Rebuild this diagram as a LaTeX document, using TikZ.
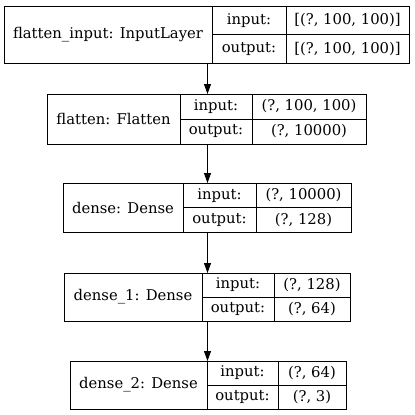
\documentclass[tikz,border=0pt]{standalone}
\usepackage{fontspec}
\setmainfont{DejaVu Serif}
\usetikzlibrary{arrows.meta}
\begin{document}
\begin{tikzpicture}[x=1pt,y=-1pt,
  cellbox/.style={draw, line width=0.9pt, inner sep=0pt, anchor=north west},
  txt/.style={font=\fontsize{14.8}{16}\selectfont, inner sep=0pt},
  conn/.style={line width=0.9pt, -{Triangle[length=10pt,width=7pt]}}]
\useasboundingbox (0,0) rectangle (415,415);
% layerbox{name}{left}{right}{top}{bottom}{d1}{d2}{label}
\newcommand{\layerbox}[8]{%
  \node[cellbox, minimum width={#3-#2}, minimum height={#5-#4}] (#1) at (#2,#4) {};
  \draw[line width=0.9pt] (#6,#4) -- (#6,#5) (#7,#4) -- (#7,#5) (#6,{(#4+#5)/2}) -- (#3,{(#4+#5)/2});
  \node[txt] (#1l) at ({(#2+#6)/2},{(#4+#5)/2}) {#8};
  \node[txt] (#1i) at ({(#6+#7)/2},{(3*#4+#5)/4}) {input:};
  \node[txt] (#1o) at ({(#6+#7)/2},{(#4+3*#5)/4}) {output:};
}
\layerbox{b1}{4}{409}{6}{63}{212}{286}{flatten\_input: InputLayer}
\node[txt] (b1iv) at (347.5,20.25) {[(?, 100, 100)]};
\node[txt] (b1ov) at (347.5,48.75) {[(?, 100, 100)]};
\layerbox{b2}{47}{366}{94}{144}{180}{252}{flatten: Flatten}
\node[txt] (b2iv) at (309,106.5) {(?, 100, 100)};
\node[txt] (b2ov) at (309,131.5) {(?, 10000)};
\layerbox{b3}{63}{351}{183}{232}{183}{256}{dense: Dense}
\node[txt] (b3iv) at (303.5,195.25) {(?, 10000)};
\node[txt] (b3ov) at (303.5,219.75) {(?, 128)};
\layerbox{b4}{64}{350}{273}{321}{202}{274}{dense\_1: Dense}
\node[txt] (b4iv) at (312,285) {(?, 128)};
\node[txt] (b4ov) at (312,309) {(?, 64)};
\layerbox{b5}{70}{346}{361}{409}{207}{278}{dense\_2: Dense}
\node[txt] (b5iv) at (312,373) {(?, 64)};
\node[txt] (b5ov) at (312,397) {(?, 3)};
\coordinate (ax) at (207.5,0);
\draw[conn] (b1.south -| ax) -- (b2.north -| ax);
\draw[conn] (b2.south -| ax) -- (b3.north -| ax);
\draw[conn] (b3.south -| ax) -- (b4.north -| ax);
\draw[conn] (b4.south -| ax) -- (b5.north -| ax);
\end{tikzpicture}
\end{document}
